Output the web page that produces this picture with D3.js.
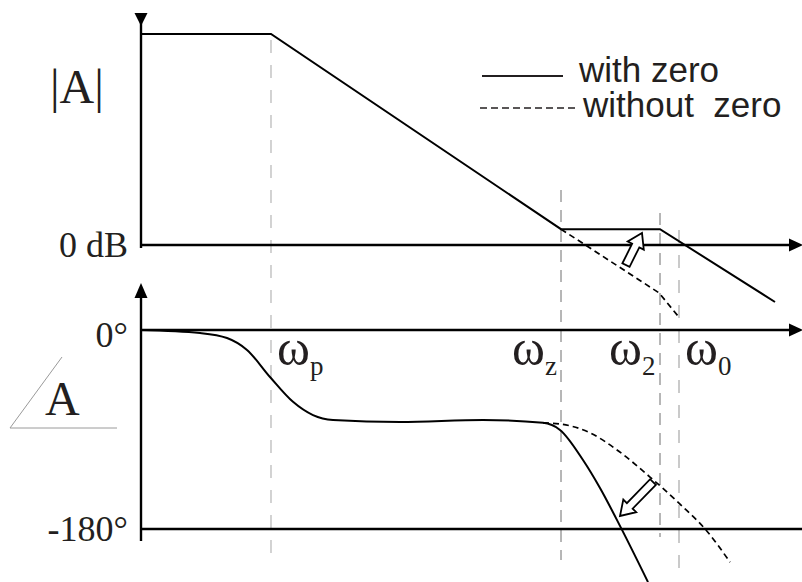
<!DOCTYPE html>
<html><head><meta charset="utf-8">
<script src="https://cdn.jsdelivr.net/npm/d3@7"></script>
<style>body{margin:0;background:#fff} svg{display:block}</style>
</head><body>
<svg id="chart" width="802" height="582"></svg>
<script>
// Corner frequencies (log-frequency units along the horizontal axis)
const cornerNames = ["p", "z", "2", "0"];
const cornerFreqs = [1.30, 4.20, 5.19, 5.38];

// Asymptotic magnitude in dB
const magFreqWith = [0, 1.30, 4.20, 5.19, 6.34];
const magWith = [60, 60, 4.5, 4.5, -16.2];
const magFreqWithout = [4.20, 5.18, 5.37];
const magWithout = [4.5, -13.6, -20.2];

// Phase in degrees
const phaseFreqWith = [0, 0.59, 0.86, 1.06, 1.29, 1.52, 1.72, 1.92, 2.59, 3.42, 4.02, 4.19, 4.42, 4.59, 4.80, 5.07];
const phaseWith = [0, -2.7, -7.2, -18, -42.5, -65, -77, -81.4, -83.2, -81.4, -84, -90.4, -117.6, -142.9, -179, -228];
const phaseFreqWithout = [4.02, 4.19, 4.49, 4.76, 5.09, 5.39, 5.66, 5.89];
const phaseWithout = [-84, -85, -93, -108.5, -133, -157.5, -182, -210];

// Tick labels
const magTicks = [0];
const magTickLabels = ["0 dB"];
const phaseTicks = [0, -180];
const phaseTickLabels = ["0°", "-180°"];

// Legend
const legendLabels = ["with zero", "without  zero"];

const ink = "#231f20";
const serif = "'Liberation Serif', 'Times New Roman', serif";
const sans = "'Liberation Sans', Arial, sans-serif";

const svg = d3.select("#chart");

const x = d3.scaleLinear().domain([0, 6.6]).range([141, 801]);
const yMag = d3.scaleLinear().domain([0, 60]).range([245, 34]);
const yPh = d3.scaleLinear().domain([0, -180]).range([330, 529]);

// Corner-frequency guides
const guideStyle = [
  {y0: 40, y1: 560, c: "#c8c8c8", w: 1.6, d: "13 12"},
  {y0: 190, y1: 560, c: "#6e6e6e", w: 1, d: "12 8"},
  {y0: 213, y1: 537, c: "#6e6e6e", w: 1, d: "12 8"},
  {y0: 230, y1: 570, c: "#bdbdbd", w: 1.6, d: "13 12"}
];
svg.append("g").selectAll("line").data(cornerFreqs).join("line")
  .attr("x1", d => x(d)).attr("x2", d => x(d))
  .attr("y1", (d, i) => guideStyle[i].y0).attr("y2", (d, i) => guideStyle[i].y1)
  .attr("stroke", (d, i) => guideStyle[i].c)
  .attr("stroke-width", (d, i) => guideStyle[i].w)
  .attr("stroke-dasharray", (d, i) => guideStyle[i].d);

// Axes
const axisG = svg.append("g").attr("stroke", "#000").attr("stroke-width", 2.4);
axisG.append("line").attr("x1", x(0)).attr("x2", x(0)).attr("y1", 22).attr("y2", yMag(0) + 3);
axisG.append("line").attr("x1", x(0)).attr("x2", 792).attr("y1", yMag(0)).attr("y2", yMag(0));
axisG.append("line").attr("x1", x(0)).attr("x2", x(0)).attr("y1", 292).attr("y2", yPh(-180) + 12);
axisG.append("line").attr("x1", x(0)).attr("x2", 792).attr("y1", yPh(0)).attr("y2", yPh(0));
axisG.append("line").attr("x1", x(0)).attr("x2", 802).attr("y1", yPh(-180)).attr("y2", yPh(-180));

const heads = svg.append("g").attr("fill", "#000");
heads.append("path").attr("d", `M${x(0) - 6.5},13 L${x(0) + 6.5},13 L${x(0)},26 Z`);
heads.append("path").attr("d", `M${x(0) - 6.5},298 L${x(0) + 6.5},298 L${x(0)},283 Z`);
[yMag(0), yPh(0)].forEach(yy => {
  heads.append("path").attr("d", `M789,${yy - 6.5} L803,${yy} L789,${yy + 6.5} Z`);
});

// Tick labels via axes
function tickAxis(scale, ticks, labels, offsets) {
  const g = svg.append("g").attr("transform", `translate(${x(0)},0)`)
    .call(d3.axisLeft(scale).tickValues(ticks).tickSize(0).tickPadding(13)
      .tickFormat((d, i) => labels[i]));
  g.select(".domain").remove();
  g.selectAll("text")
    .attr("font-family", serif).attr("font-size", 36).attr("fill", ink)
    .attr("dy", (d, i) => offsets[i]);
  return g;
}
tickAxis(yMag, magTicks, magTickLabels, ["0.33em"]);
tickAxis(yPh, phaseTicks, phaseTickLabels, ["0.47em", "0.33em"]);

// Axis titles
svg.append("text").attr("x", 50).attr("y", 103)
  .attr("font-family", serif).attr("font-size", 48).attr("fill", ink).text("|A|");
svg.append("text").attr("x", 45).attr("y", 415)
  .attr("font-family", serif).attr("font-size", 48).attr("fill", ink).text("A");
svg.append("path").attr("d", "M62,357 L10,428 L117,428")
  .attr("fill", "none").attr("stroke", "#9a9a9a").attr("stroke-width", 1);

// Magnitude curves
const lineOf = (xs, ys, ysc, curve) => d3.line()
  .x((d, i) => x(xs[i])).y((d, i) => ysc(ys[i])).curve(curve)(ys);

svg.append("path").attr("d", lineOf(magFreqWith, magWith, yMag, d3.curveLinear))
  .attr("fill", "none").attr("stroke", "#000").attr("stroke-width", 2);
svg.append("path").attr("d", lineOf(magFreqWithout, magWithout, yMag, d3.curveLinear))
  .attr("fill", "none").attr("stroke", "#000").attr("stroke-width", 1.7)
  .attr("stroke-dasharray", "6 4");

// Phase curves
svg.append("path").attr("d", lineOf(phaseFreqWith, phaseWith, yPh, d3.curveMonotoneX))
  .attr("fill", "none").attr("stroke", "#000").attr("stroke-width", 2);
svg.append("path").attr("d", lineOf(phaseFreqWithout, phaseWithout, yPh, d3.curveMonotoneX))
  .attr("fill", "none").attr("stroke", "#000").attr("stroke-width", 1.7)
  .attr("stroke-dasharray", "6 4");

// Corner-frequency labels
const labelDx = [6, -49, -51, 6];
cornerFreqs.forEach((f, i) => {
  const t = svg.append("text").attr("x", x(f) + labelDx[i]).attr("y", 365)
    .attr("font-family", serif).attr("font-size", 50).attr("fill", ink);
  t.append("tspan").text("ω");
  t.append("tspan").attr("font-size", 27).attr("dy", 10).text(cornerNames[i]);
});

// Block arrows showing the effect of the zero
function blockArrow(p0, p1) {
  const dx = p1[0] - p0[0], dy = p1[1] - p0[1];
  const L = Math.hypot(dx, dy), a = Math.atan2(dy, dx) * 180 / Math.PI;
  const w = 4, h = 9, hl = 14;
  svg.append("path")
    .attr("d", `M0,${-w} L${L - hl},${-w} L${L - hl},${-h} L${L},0 L${L - hl},${h} L${L - hl},${w} L0,${w} Z`)
    .attr("transform", `translate(${p0[0]},${p0[1]}) rotate(${a})`)
    .attr("fill", "#fff").attr("stroke", "#000").attr("stroke-width", 1.8)
    .attr("stroke-linejoin", "miter");
}
blockArrow([x(4.85), yMag(-5.7)], [x(5.01), yMag(3.4)]);
blockArrow([x(5.12), yPh(-137.5)], [x(4.79), yPh(-168.2)]);

// Legend
const lg = svg.append("g");
lg.append("line").attr("x1", 482).attr("x2", 563).attr("y1", 76).attr("y2", 76)
  .attr("stroke", ink).attr("stroke-width", 2);
lg.append("line").attr("x1", 480).attr("x2", 577).attr("y1", 108).attr("y2", 108)
  .attr("stroke", ink).attr("stroke-width", 1.6).attr("stroke-dasharray", "7 4");
lg.selectAll("text").data(legendLabels).join("text")
  .attr("x", (d, i) => i === 0 ? 579 : 583)
  .attr("y", (d, i) => i === 0 ? 82 : 117)
  .attr("font-family", sans).attr("font-size", 35).attr("fill", ink)
  .style("white-space", "pre")
  .text(d => d);
</script>
</body></html>
